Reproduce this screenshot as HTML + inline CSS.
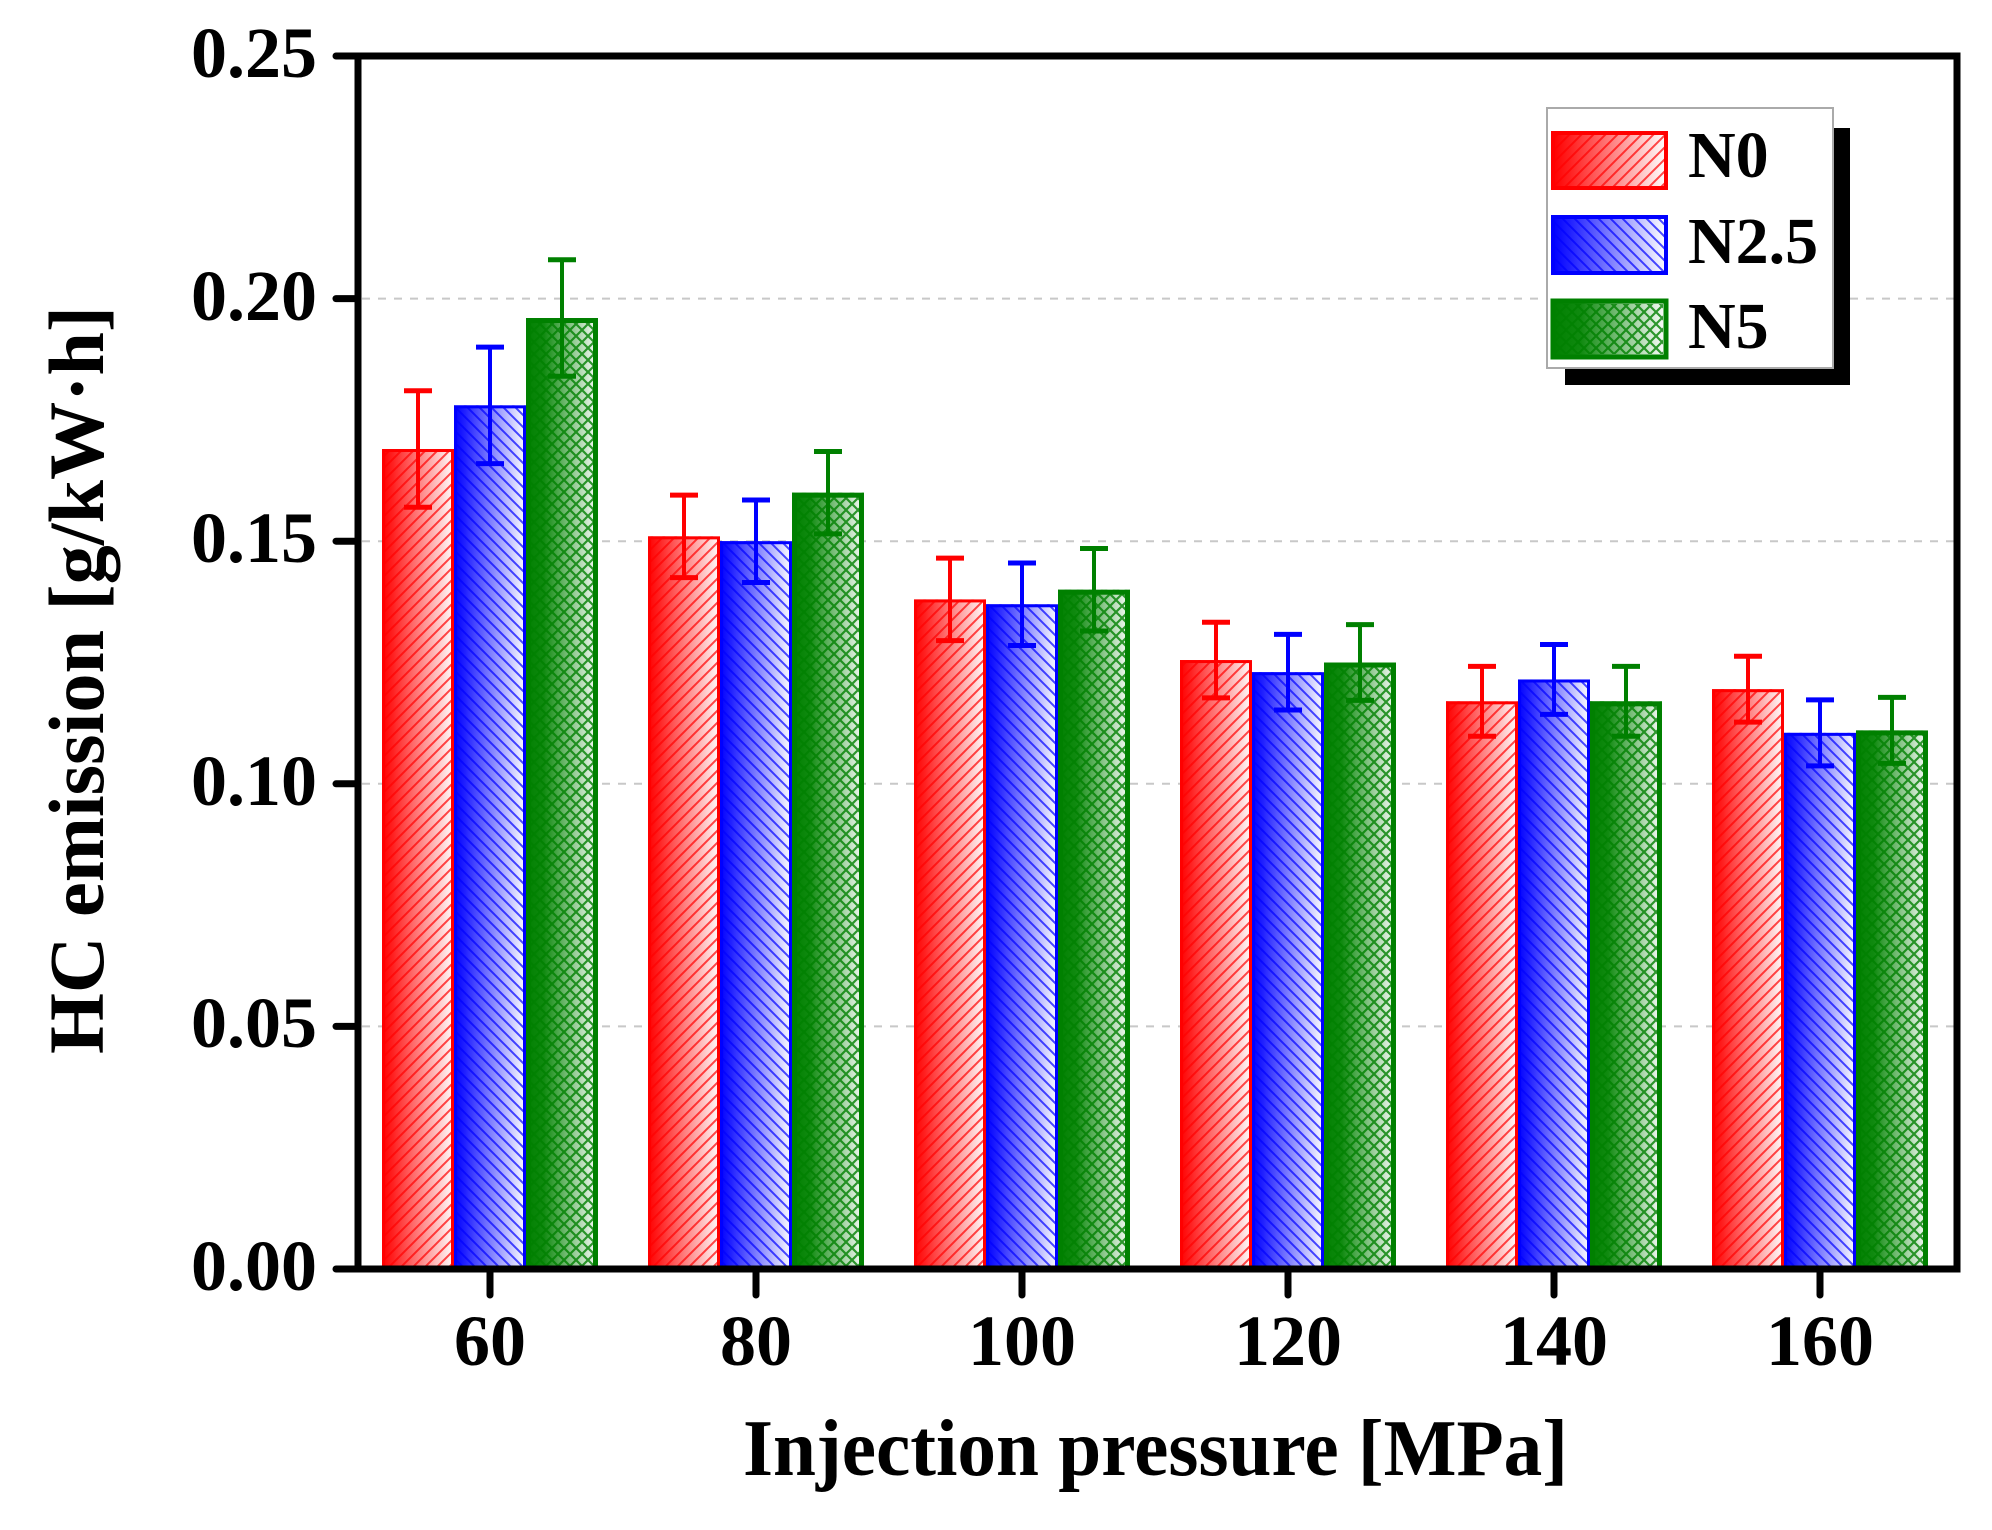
<!DOCTYPE html>
<html><head><meta charset="utf-8"><style>html,body{margin:0;padding:0;background:#fff}svg{display:block}</style></head>
<body>
<svg width="1992" height="1530" viewBox="0 0 1992 1530" xmlns="http://www.w3.org/2000/svg" font-family="'Liberation Serif', serif" font-weight="bold">
<defs>
<linearGradient id="gr" x1="0" x2="1" y1="0" y2="0"><stop offset="0" stop-color="#ff0000"/><stop offset="0.15" stop-color="#ff2020"/><stop offset="1" stop-color="#ffffff"/></linearGradient>
<linearGradient id="gb" x1="0" x2="1" y1="0" y2="0"><stop offset="0" stop-color="#0000ff"/><stop offset="0.15" stop-color="#2020ff"/><stop offset="1" stop-color="#ffffff"/></linearGradient>
<linearGradient id="gg" x1="0" x2="1" y1="0" y2="0"><stop offset="0" stop-color="#008000"/><stop offset="0.25" stop-color="#108a10"/><stop offset="1" stop-color="#ffffff"/></linearGradient>
<pattern id="pr" patternUnits="userSpaceOnUse" width="12" height="12"><path d="M-3,15 L15,-3 M-3,3 L3,-3 M9,15 L15,9" stroke="#ff0000" stroke-width="2" stroke-opacity="0.7"/></pattern>
<pattern id="pb" patternUnits="userSpaceOnUse" width="12" height="12"><path d="M-3,-3 L15,15 M-3,9 L3,15 M9,-3 L15,3" stroke="#0000ff" stroke-width="2" stroke-opacity="0.7"/></pattern>
<pattern id="pg" patternUnits="userSpaceOnUse" width="12" height="12"><path d="M-3,15 L15,-3 M-3,-3 L15,15" stroke="#008000" stroke-width="2.2" stroke-opacity="0.8"/></pattern>
</defs>
<g stroke="#c8c8c8" stroke-width="2" stroke-dasharray="8,8">
<line x1="362" x2="1955" y1="1026.4" y2="1026.4"/><line x1="362" x2="1955" y1="783.8" y2="783.8"/><line x1="362" x2="1955" y1="541.2" y2="541.2"/><line x1="362" x2="1955" y1="298.6" y2="298.6"/>
</g>
<g id="bars"></g>
<rect x="358" y="56" width="1599" height="1213" fill="none" stroke="#000" stroke-width="7"/>
<g stroke="#000" stroke-width="7" stroke-linecap="round">
<line x1="336" x2="358" y1="1269" y2="1269"/><line x1="336" x2="358" y1="1026.4" y2="1026.4"/><line x1="336" x2="358" y1="783.8" y2="783.8"/><line x1="336" x2="358" y1="541.2" y2="541.2"/><line x1="336" x2="358" y1="298.6" y2="298.6"/><line x1="336" x2="358" y1="56" y2="56"/>
<line x1="490" x2="490" y1="1269" y2="1295"/><line x1="756" x2="756" y1="1269" y2="1295"/><line x1="1022" x2="1022" y1="1269" y2="1295"/><line x1="1288" x2="1288" y1="1269" y2="1295"/><line x1="1554" x2="1554" y1="1269" y2="1295"/><line x1="1820" x2="1820" y1="1269" y2="1295"/>
</g>
<g font-size="72" text-anchor="end">
<text x="317" y="1290">0.00</text><text x="317" y="1047">0.05</text><text x="317" y="805">0.10</text><text x="317" y="562">0.15</text><text x="317" y="320">0.20</text><text x="317" y="77">0.25</text>
</g>
<g font-size="72" text-anchor="middle">
<text x="490" y="1365">60</text><text x="756" y="1365">80</text><text x="1022" y="1365">100</text><text x="1288" y="1365">120</text><text x="1554" y="1365">140</text><text x="1820" y="1365">160</text>
</g>
<text x="743" y="1475" font-size="80" textLength="825" lengthAdjust="spacingAndGlyphs">Injection pressure [MPa]</text>
<text transform="translate(103,1054) rotate(-90)" font-size="78" textLength="748" lengthAdjust="spacingAndGlyphs">HC emission [g/kW·h]</text>
<rect x="1565" y="128" width="285" height="257" fill="#000"/>
<rect x="1547" y="108" width="286" height="260" fill="#fff" stroke="#aaa" stroke-width="2"/>
<rect x="1553" y="133" width="113" height="55" fill="url(#gr)" stroke="#f00" stroke-width="4"/><rect x="1555" y="135" width="109" height="51" fill="url(#pr)"/>
<rect x="1553" y="217" width="113" height="56" fill="url(#gb)" stroke="#00f" stroke-width="4"/><rect x="1555" y="219" width="109" height="52" fill="url(#pb)"/>
<rect x="1553" y="301" width="113" height="56" fill="url(#gg)" stroke="#008000" stroke-width="5"/><rect x="1556" y="304" width="107" height="50" fill="url(#pg)"/>
<g font-size="66"><text x="1688" y="177">N0</text><text x="1688" y="263">N2.5</text><text x="1688" y="348">N5</text></g>
<script>
(function(){
var g=document.getElementById('bars');var ns='http://www.w3.org/2000/svg';
var d=[[.169,.178,.196],[.151,.150,.160],[.138,.137,.140],[.1255,.123,.125],[.117,.1215,.117],[.1195,.1105,.111]];
var e=[.012,.0085,.0085,.0078,.0072,.0068];
var col=['#ff0000','#0000ff','#008000'],gid=['gr','gb','gg'],pid=['pr','pb','pg'],sw=[3,3,5];
function y(v){return 1269-v*4852;}
function el(t,a){var n=document.createElementNS(ns,t);for(var k in a)n.setAttribute(k,a[k]);g.appendChild(n);return n;}
for(var i=0;i<6;i++){var c=490+266*i;for(var j=0;j<3;j++){var x=c-108+j*72,v=d[i][j],t=y(v);
el('rect',{x:x,y:t,width:72,height:1269-t,fill:'url(#'+gid[j]+')'});
el('rect',{x:x,y:t,width:72,height:1269-t,fill:'url(#'+pid[j]+')'});
el('rect',{x:x+sw[j]/2,y:t+sw[j]/2,width:72-sw[j],height:1269-t-sw[j]/2,fill:'none',stroke:col[j],'stroke-width':sw[j]});
var cx=x+36,a=y(v+e[i]),b=y(v-e[i]);
el('line',{x1:cx,x2:cx,y1:a,y2:b,stroke:col[j],'stroke-width':4});
el('line',{x1:cx-14,x2:cx+14,y1:a,y2:a,stroke:col[j],'stroke-width':5});
el('line',{x1:cx-14,x2:cx+14,y1:b,y2:b,stroke:col[j],'stroke-width':5});
}}})();
</script>
</svg>
</body></html>
